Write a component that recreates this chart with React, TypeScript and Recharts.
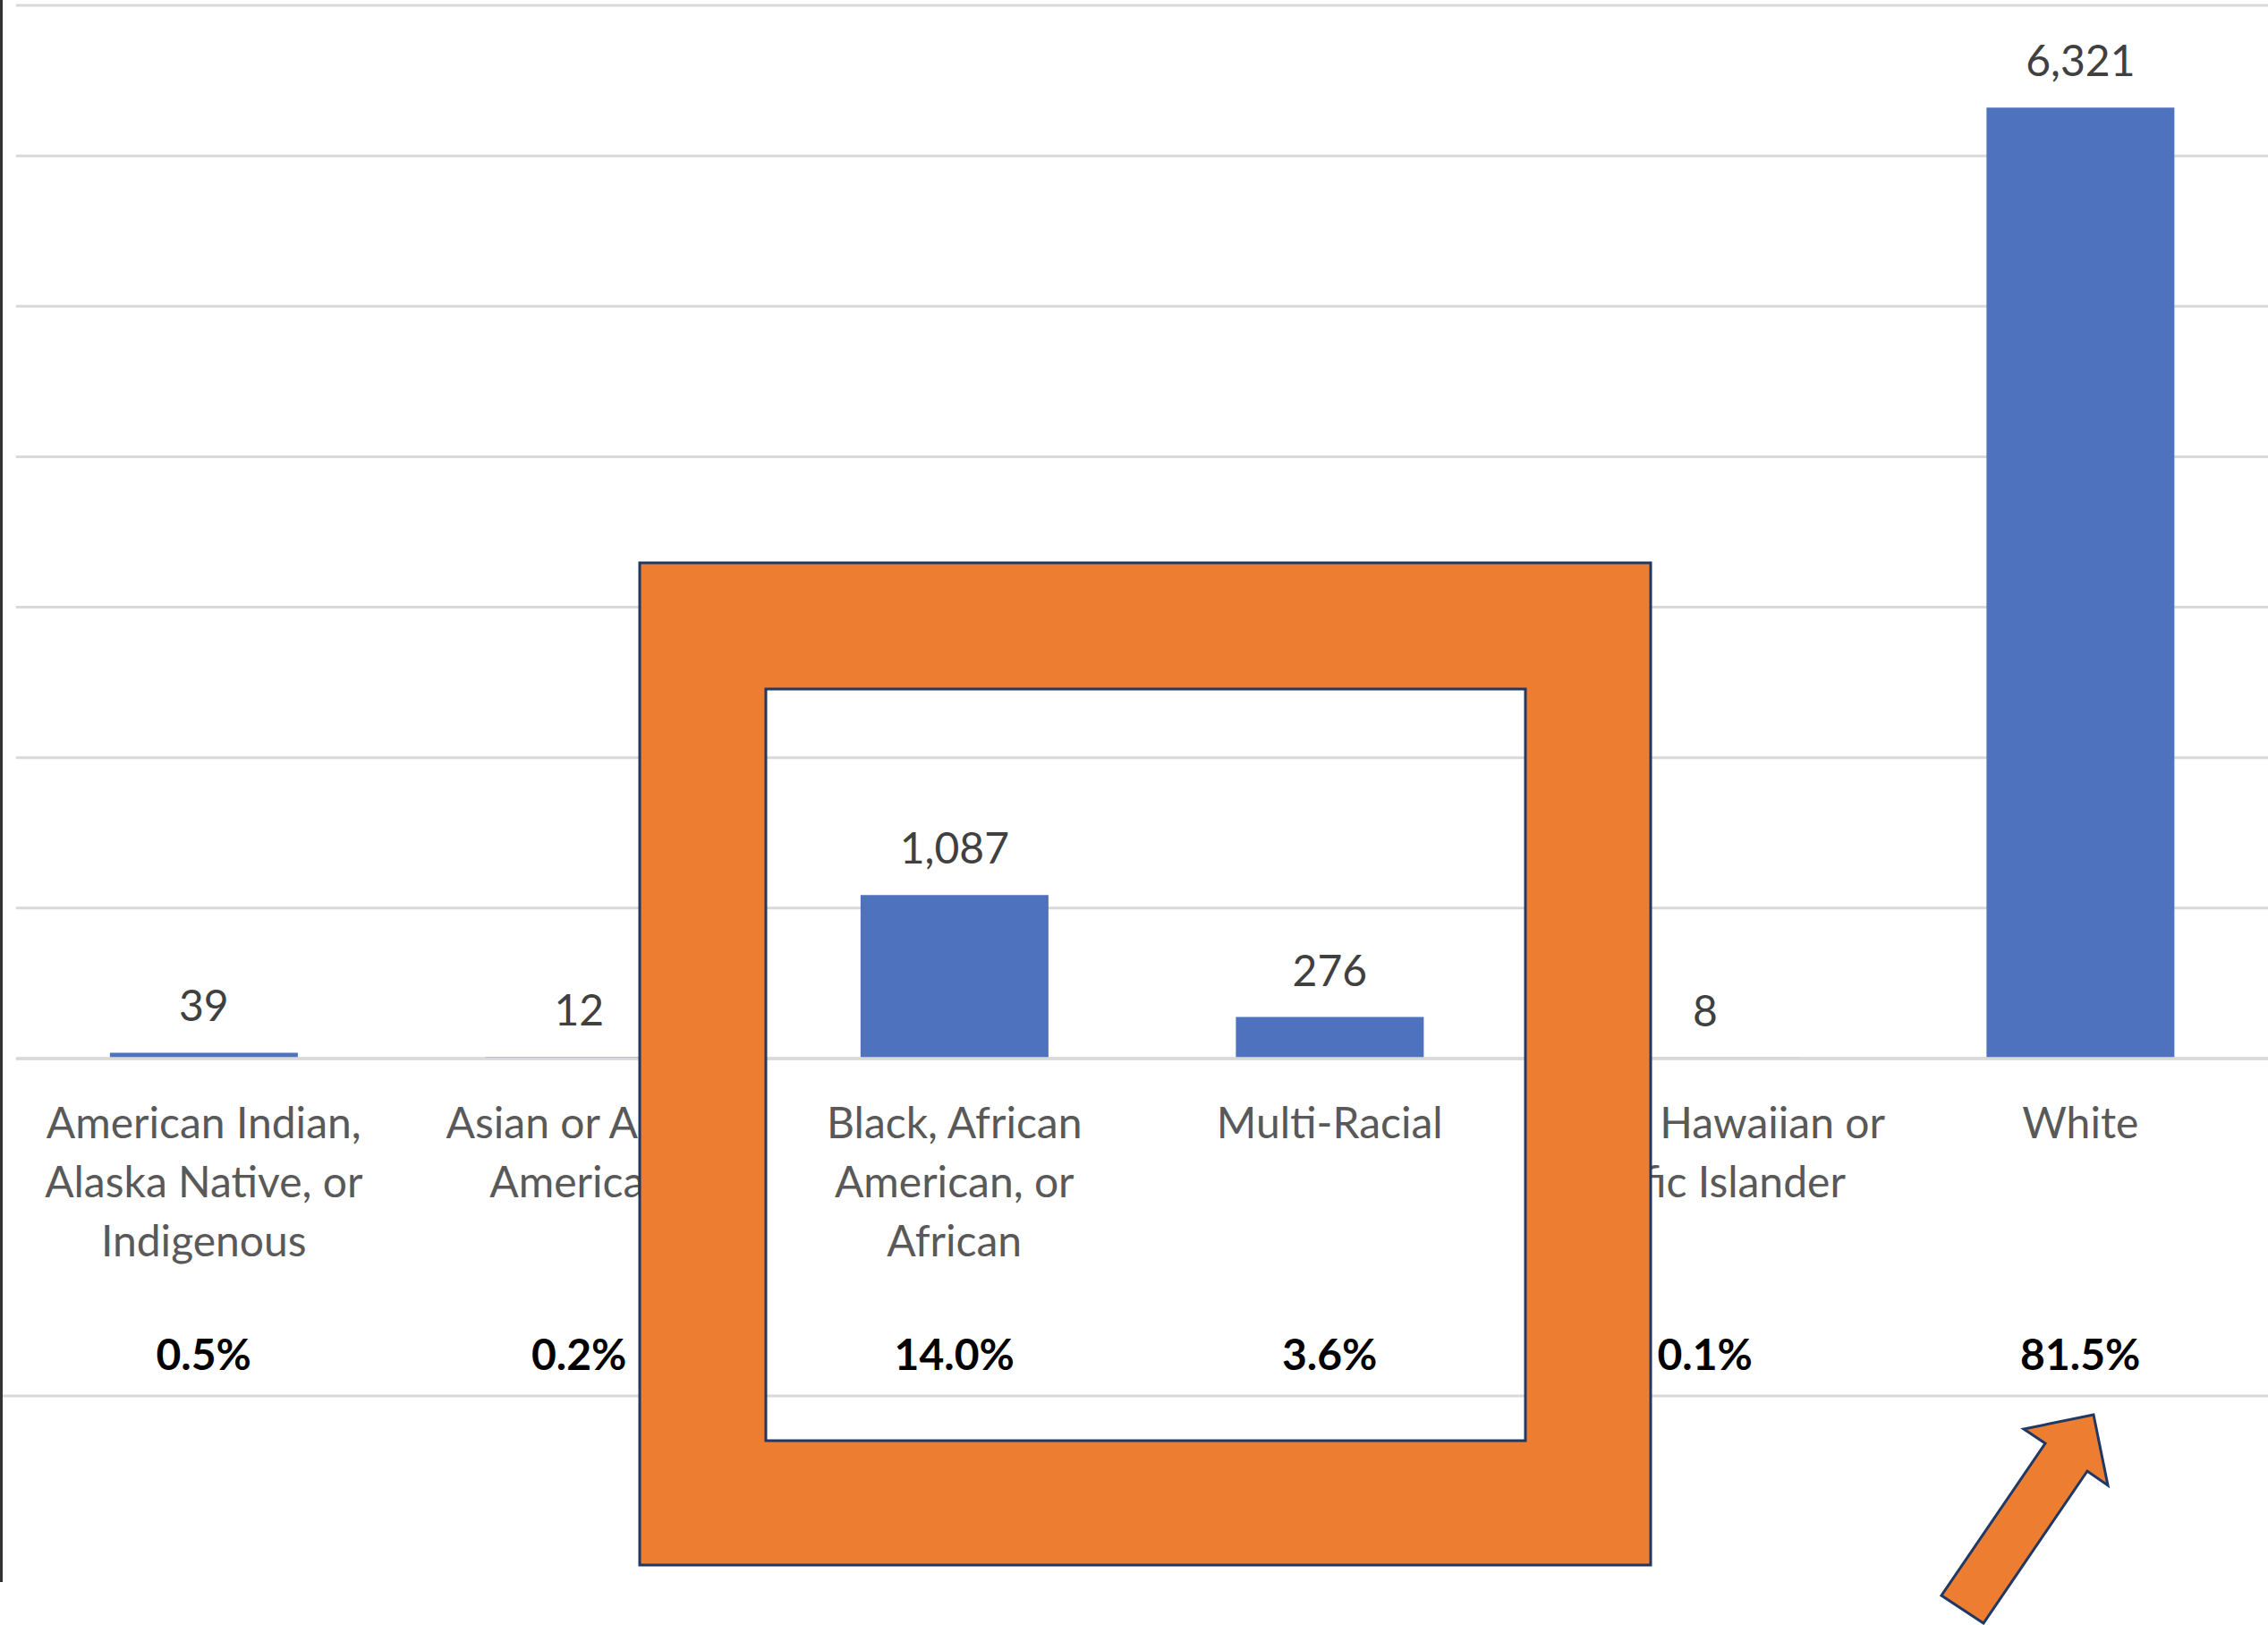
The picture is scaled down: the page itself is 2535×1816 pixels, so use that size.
import React from 'react';
import { BarChart, Bar, XAxis, YAxis, CartesianGrid, LabelList, ReferenceLine } from 'recharts';

const categories = [
    'American Indian,\nAlaska Native, or\nIndigenous',
    'Asian or Asian\nAmerican',
    'Black, African\nAmerican, or\nAfrican',
    'Multi-Racial',
    'Native Hawaiian or\nPacific Islander',
    'White',
];
const counts = [39, 12, 1087, 276, 8, 6321];
const shares = ['0.5%', '0.2%', '14.0%', '3.6%', '0.1%', '81.5%'];
const yTicks = [0, 1000, 2000, 3000, 4000, 5000, 6000, 7000];

const data = categories.map((name, i) => ({ name, value: counts[i] }));

const FONT = 'Lato, Carlito, Calibri, sans-serif';
const W = 2535;
const H = 1816;

const CategoryTick = (props: any) => {
    const { x, y, payload } = props;
    const lines: string[] = String(payload.value).split('\n');
    const share = shares[categories.indexOf(payload.value)];
    return (
        <g>
            {lines.map((line, i) => (
                <text key={i} x={x} y={y + 89 + i * 66} textAnchor="middle" fill="#595959" fontSize={48} fontFamily={FONT}>
                    {line}
                </text>
            ))}
            <text x={x} y={y + 348} textAnchor="middle" fill="#000" fontSize={48} fontWeight={700} fontFamily={FONT}>
                {share}
            </text>
        </g>
    );
};

// annotation shapes drawn over the chart (frame + arrow)
const Overlay = () => (
    <svg width={W} height={H} style={{ position: 'absolute', left: 0, top: 0, pointerEvents: 'none' }}>
        <line x1={0} y1={1560} x2={W} y2={1560} stroke="#d9d9d9" strokeWidth={3} />
        <line x1={1.5} y1={0} x2={1.5} y2={1768} stroke="#333" strokeWidth={3} />
        <path
            d="M715 629 H1845 V1749 H715 Z M856 770 V1610 H1705 V770 Z"
            fill="#ED7D31"
            fillRule="evenodd"
            stroke="#1F3864"
            strokeWidth={3}
        />
        <polygon
            points="2340,1581 2356,1660 2333,1644 2217,1814 2170,1783 2286,1613 2262,1597"
            fill="#ED7D31"
            stroke="#1F3864"
            strokeWidth={3}
        />
    </svg>
);

const App: React.FC = () => {
    return (
        <div style={{ position: 'absolute', left: 0, top: 0, width: W, height: H, background: '#fff' }}>
            <BarChart width={W} height={H} data={data} margin={{ top: 6, right: 0, bottom: 33, left: 18 }} barCategoryGap="25%">
                <CartesianGrid vertical={false} stroke="#d9d9d9" strokeWidth={3} />
                <XAxis
                    dataKey="name"
                    height={600}
                    interval={0}
                    tickLine={false}
                    tickSize={0}
                    tickMargin={0}
                    axisLine={{ stroke: '#d9d9d9', strokeWidth: 3 }}
                    tick={<CategoryTick />}
                />
                <YAxis hide width={0} domain={[0, 7000]} ticks={yTicks} />
                <Bar dataKey="value" fill="#4E72BE" isAnimationActive={false}>
                    <LabelList
                        dataKey="value"
                        position="top"
                        offset={35}
                        fill="#404040"
                        fontSize={48}
                        fontFamily={FONT}
                        formatter={(v: any) => Number(v).toLocaleString('en-US')}
                    />
                </Bar>
                <ReferenceLine y={0} stroke="#d9d9d9" strokeWidth={3} />
            </BarChart>
            <Overlay />
        </div>
    );
};

export default App;
